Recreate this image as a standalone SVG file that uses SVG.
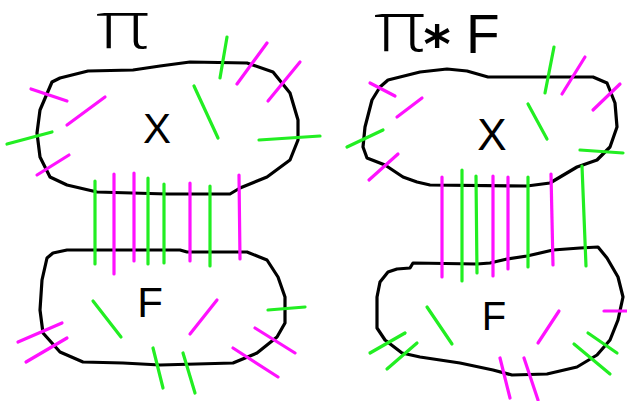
<svg xmlns="http://www.w3.org/2000/svg" width="627" height="401" viewBox="0 0 627 401">
<style>
.o{fill:none;stroke:#000;stroke-width:3.2;stroke-linecap:round;stroke-linejoin:round}
.g{stroke:#22ee22;stroke-width:3.2;stroke-linecap:round}
.m{stroke:#ff11ff;stroke-width:3.2;stroke-linecap:round}
.t{font-family:"Liberation Sans",Arial,sans-serif;fill:#000}
.p{font-family:"Open Sans","DejaVu Sans",sans-serif;font-weight:300;fill:#000}
.a{font-family:"DejaVu Sans",sans-serif;font-weight:bold;fill:#000}
</style>
<rect width="627" height="401" fill="#fff"/>
<g id="left-title"><text class="p" x="96" y="48" font-size="66" textLength="54" lengthAdjust="spacingAndGlyphs">π</text></g>
<g id="right-title">
<text class="p" x="374" y="51" font-size="70" textLength="52" lengthAdjust="spacingAndGlyphs">π</text>
<text class="a" x="437" y="62" font-size="52" text-anchor="middle">*</text>
<text class="t" x="466" y="53" font-size="55">F</text>
</g>
<g id="left-X">
<path class="o" d="M52,82 L60,78 L88,71 L133,70 L160,66 L190,62 L247,63 L273,72 L290,93 L298,120 L298,140 L290,160 L267,177 L240,188 L230,194 L167,194 L97,192 L67,185 L50,177 L40,157 L37,133 L40,110 L52,82 Z"/>
<text class="t" x="157" y="143" font-size="42" text-anchor="middle">X</text>
</g>
<g id="left-F">
<path class="o" d="M67,250 L180,250 L187,252 L247,252 L267,260 L278,277 L285,297 L285,323 L277,337 L257,353 L233,363 L160,365 L123,363 L83,362 L60,352 L43,333 L40,310 L42,280 L47,258 L53,253 Z"/>
<text class="t" x="150" y="317" font-size="42" text-anchor="middle">F</text>
</g>
<g id="right-X">
<path class="o" d="M388,80 L420,72 L447,69 L467,71 L488,77 L593,77 L607,83 L615,103 L617,127 L610,147 L597,160 L577,167 L550,183 L527,186 L430,185 L417,182 L403,177 L385,165 L367,158 L363,147 L365,127 L372,100 L380,87 Z"/>
<text class="t" x="492" y="150" font-size="44" text-anchor="middle">X</text>
</g>
<g id="right-F">
<path class="o" d="M413,263 L477,264 L490,263 L507,259 L527,256 L553,250 L580,248 L598,247 L607,258 L618,277 L623,297 L618,320 L610,340 L597,355 L577,367 L547,374 L512,375 L493,370 L460,363 L420,357 L402,353 L385,340 L377,328 L377,297 L380,282 L388,272 L397,269 L410,268 Z"/>
<text class="t" x="494" y="330" font-size="40" text-anchor="middle">F</text>
</g>
<g id="connectors">
<line class="g" x1="95" y1="181" x2="95" y2="264"/>
<line class="m" x1="114" y1="174" x2="114" y2="274"/>
<line class="m" x1="134" y1="173" x2="134" y2="261"/>
<line class="g" x1="148" y1="178" x2="148" y2="264"/>
<line class="g" x1="164" y1="184" x2="164" y2="263"/>
<line class="m" x1="190" y1="183" x2="190" y2="261"/>
<line class="g" x1="210" y1="186" x2="210" y2="266"/>
<line class="m" x1="239" y1="175" x2="240" y2="259"/>
<line class="m" x1="442" y1="177" x2="442" y2="277"/>
<line class="g" x1="462" y1="170" x2="462" y2="281"/>
<line class="g" x1="476" y1="176" x2="477" y2="273"/>
<line class="m" x1="493" y1="176" x2="493" y2="276"/>
<line class="m" x1="508" y1="177" x2="508" y2="269"/>
<line class="g" x1="528" y1="177" x2="528" y2="267"/>
<line class="m" x1="551" y1="174" x2="553" y2="265"/>
<line class="g" x1="582" y1="166" x2="586" y2="266"/>
</g>
<g id="ticks">
<line class="m" x1="31" y1="89" x2="67" y2="101"/>
<line class="m" x1="67" y1="125" x2="105" y2="97"/>
<line class="g" x1="7" y1="144" x2="52" y2="132"/>
<line class="m" x1="37" y1="175" x2="69" y2="155"/>
<line class="g" x1="194" y1="86" x2="218" y2="138"/>
<line class="g" x1="227" y1="37" x2="220" y2="78"/>
<line class="m" x1="237" y1="84" x2="267" y2="43"/>
<line class="m" x1="268" y1="101" x2="300" y2="62"/>
<line class="g" x1="259" y1="140" x2="320" y2="136"/>
<line class="m" x1="18" y1="342" x2="62" y2="323"/>
<line class="m" x1="26" y1="362" x2="67" y2="338"/>
<line class="g" x1="93" y1="301" x2="121" y2="337"/>
<line class="m" x1="190" y1="334" x2="217" y2="300"/>
<line class="g" x1="268" y1="310" x2="305" y2="307"/>
<line class="m" x1="255" y1="328" x2="295" y2="353"/>
<line class="m" x1="233" y1="348" x2="278" y2="377"/>
<line class="g" x1="153" y1="348" x2="163" y2="388"/>
<line class="g" x1="183" y1="353" x2="195" y2="393"/>
<line class="m" x1="370" y1="83" x2="395" y2="96"/>
<line class="m" x1="397" y1="117" x2="422" y2="98"/>
<line class="g" x1="347" y1="147" x2="383" y2="130"/>
<line class="m" x1="369" y1="180" x2="398" y2="154"/>
<line class="g" x1="528" y1="104" x2="547" y2="139"/>
<line class="g" x1="554" y1="47" x2="545" y2="93"/>
<line class="m" x1="585" y1="57" x2="562" y2="94"/>
<line class="m" x1="620" y1="84" x2="593" y2="110"/>
<line class="g" x1="580" y1="150" x2="623" y2="153"/>
<line class="g" x1="370" y1="353" x2="405" y2="333"/>
<line class="g" x1="387" y1="369" x2="417" y2="343"/>
<line class="g" x1="427" y1="307" x2="452" y2="344"/>
<line class="m" x1="538" y1="343" x2="559" y2="311"/>
<line class="m" x1="604" y1="311" x2="627" y2="311"/>
<line class="g" x1="588" y1="333" x2="617" y2="353"/>
<line class="g" x1="574" y1="344" x2="610" y2="374"/>
<line class="m" x1="500" y1="358" x2="510" y2="398"/>
<line class="m" x1="524" y1="358" x2="538" y2="400"/>
</g>
</svg>
